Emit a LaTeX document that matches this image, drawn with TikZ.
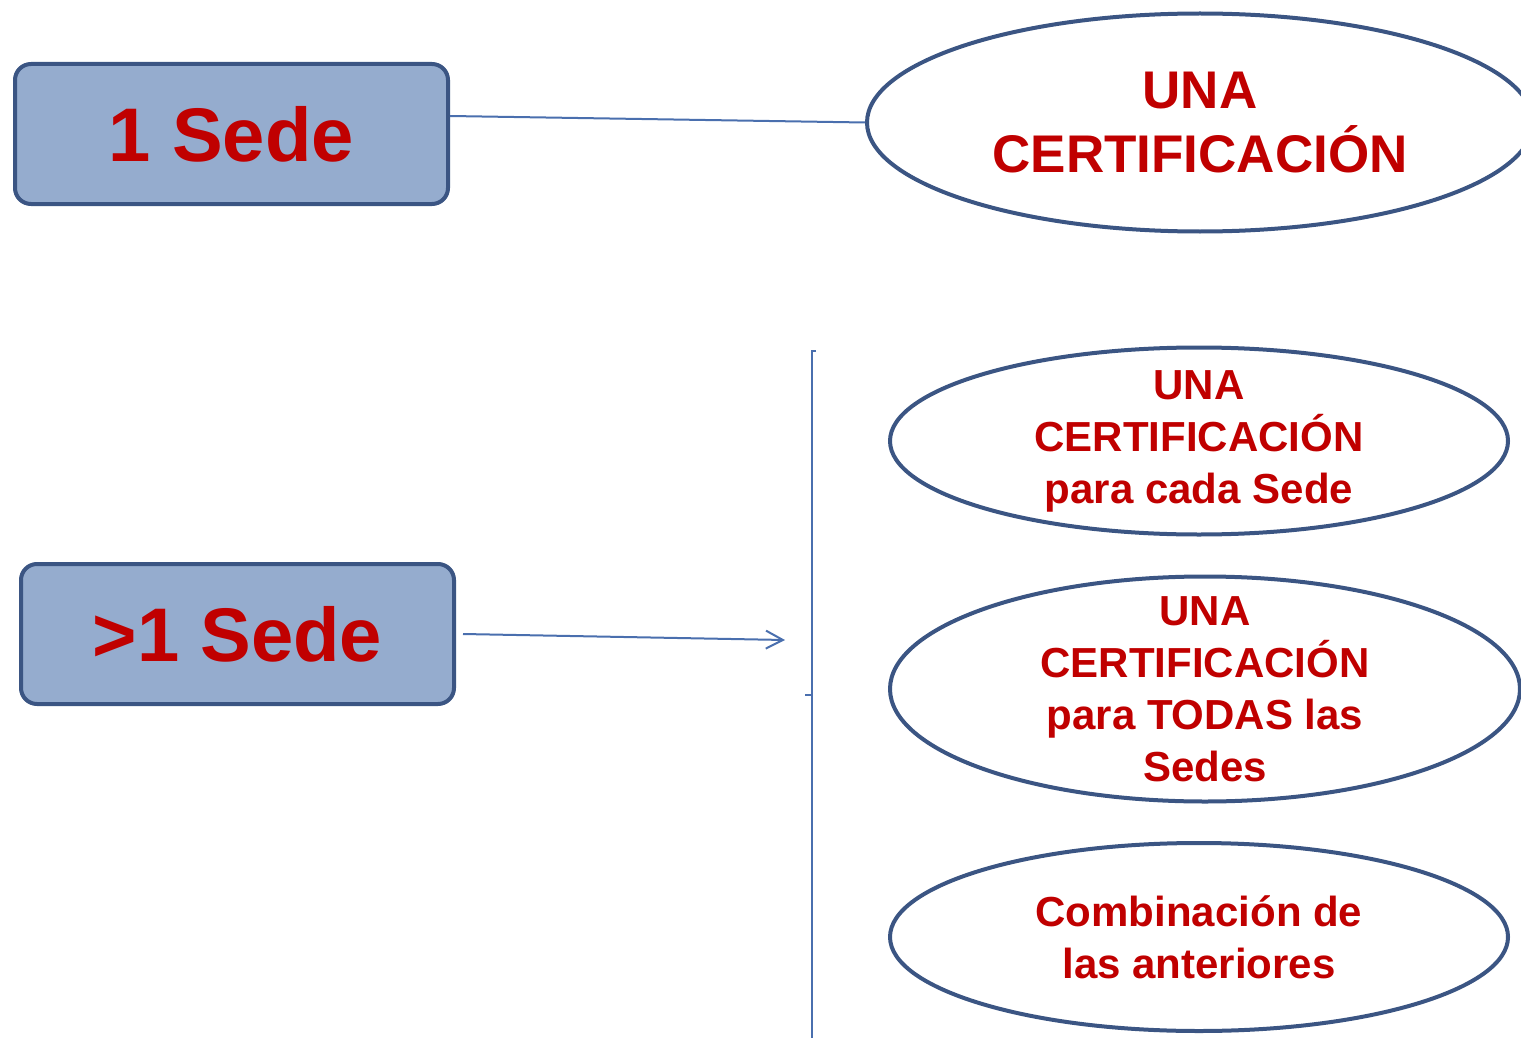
\documentclass[tikz,border=0pt]{standalone}
\usepackage{fontspec}
\setmainfont{Liberation Sans}
\usetikzlibrary{shapes.geometric,arrows.meta}
\definecolor{sedefill}{HTML}{95ACCE}
\definecolor{sededraw}{HTML}{3B5583}
\definecolor{linkblue}{HTML}{4A6FAE}
\definecolor{certred}{HTML}{C00000}

\begin{document}
\begin{tikzpicture}[x=0.5pt,y=-0.5pt,
  sede/.style={draw=sededraw,fill=sedefill,line width=2pt,rounded corners=8pt,
    minimum width=216.5pt,minimum height=70pt,text=certred,
    font=\fontsize{38}{40}\selectfont\bfseries},
  cert/.style={ellipse,draw=sededraw,line width=2pt,inner sep=0pt,text=certred,
    align=center,font=\fontsize{21}{26}\selectfont\bfseries},
  link/.style={draw=linkblue,line width=1pt}]
  \useasboundingbox (0,0) rectangle (1521,1038);
  \clip (0,0) rectangle (1521,1038);
  \node[sede] (one) at (231.5,134) {1 Sede};
  \node[sede] (many) at (237.5,634) {>1 Sede};
  \node[cert,minimum width=333pt,minimum height=109pt,
    font=\fontsize{26.5}{32}\selectfont\bfseries] (una) at (1200,122.5) {UNA\\CERTIFICACIÓN};
  \node[cert,inner ysep=-2.5pt,minimum width=309pt,minimum height=93.5pt] (cada) at (1199,441) {UNA\\CERTIFICACIÓN\\para cada Sede};
  \node[cert,inner ysep=-6.7pt,minimum width=315pt,minimum height=112.5pt] (todas) at (1205,689) {UNA\\CERTIFICACIÓN\\para TODAS las\\Sedes};
  \node[cert,minimum width=309pt,minimum height=94pt] (comb) at (1199,937) {Combinación de\\las anteriores};
  \coordinate (tip) at (785,640);
  \draw[link] ([yshift=9pt]one.east) -- (una.west);
  \draw[link,-{Straight Barb[length=8.5pt,width=9pt]}] ([xshift=3.5pt]many.east) -- (tip);
  \draw[link] (816,351) -- (812,351) -- (812,1040);
  \draw[link] (805,695) -- (812,695);
\end{tikzpicture}
\end{document}
